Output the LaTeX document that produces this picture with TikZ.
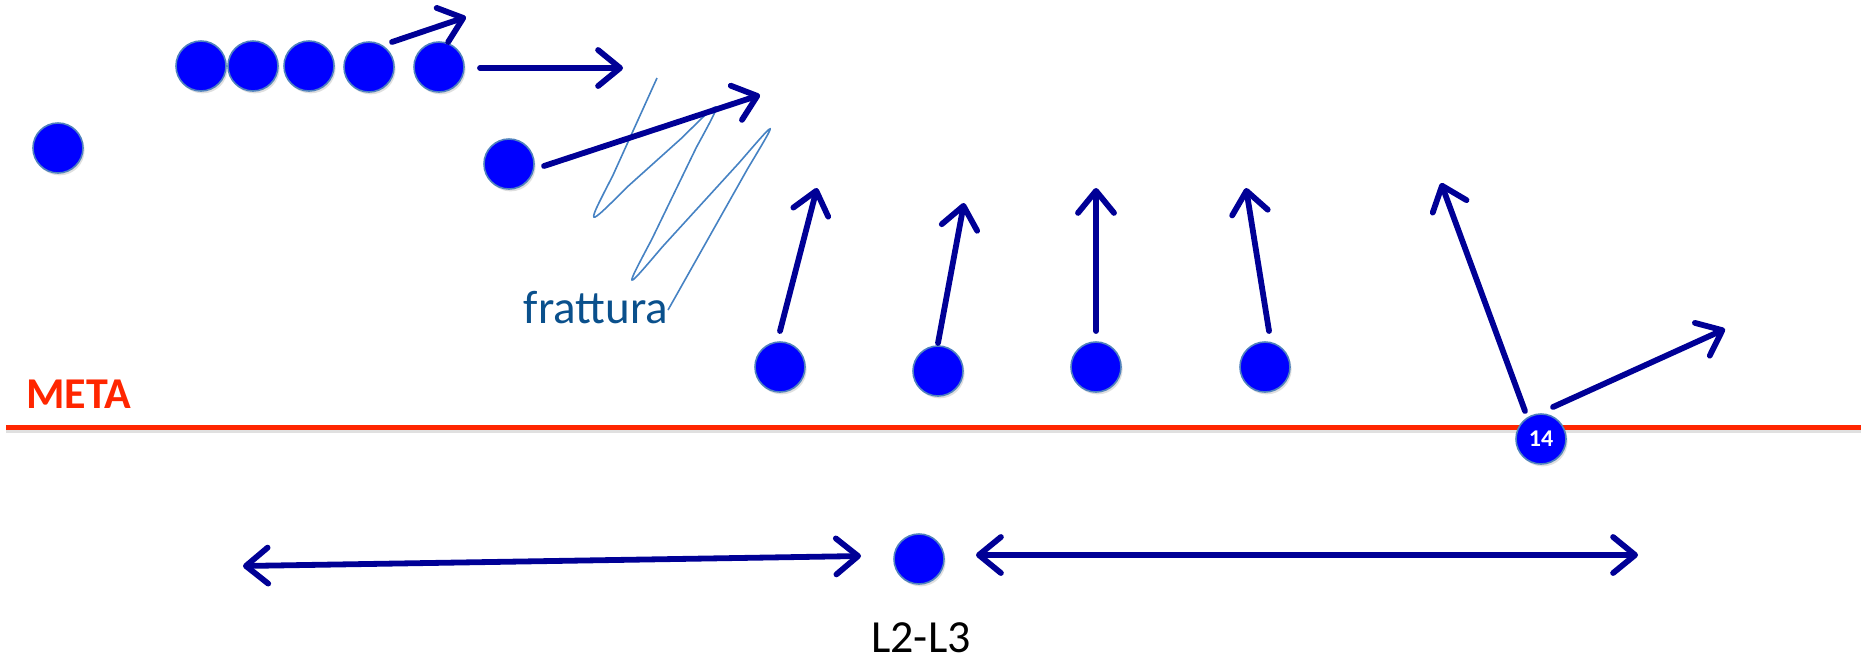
\documentclass[tikz,border=0pt]{standalone}
\usepackage{fontspec}
\setmainfont{Carlito}
\usetikzlibrary{arrows.meta,shadows}
\definecolor{navy}{RGB}{0,0,150}
\definecolor{ballfill}{RGB}{0,0,255}
\definecolor{ballrim}{RGB}{80,130,190}
\definecolor{metared}{RGB}{255,38,0}
\definecolor{fracblue}{RGB}{10,80,140}
\definecolor{zigblue}{RGB}{70,130,195}
\begin{document}
\begin{tikzpicture}[x=0.5pt,y=-0.5pt,
  ball/.style={circle, fill=ballfill, draw=ballrim, line width=0.8pt,
    minimum size=25pt, inner sep=0pt,
    drop shadow={opacity=0.25, shadow xshift=0.8pt, shadow yshift=-1.2pt}},
  mv/.style={draw=navy, line width=2.9pt, line cap=round,
    -{Straight Barb[length=11pt,width=18pt,round]}},
  dmv/.style={draw=navy, line width=2.9pt, line cap=round,
    {Straight Barb[length=11pt,width=18pt,round]}-{Straight Barb[length=11pt,width=18pt,round]}},
  lbl/.style={inner sep=0pt, anchor=base}]
\useasboundingbox (0,0) rectangle (1861,660);

% META line
\coordinate (mL) at (6,427);
\coordinate (mR) at (1861,427);
\draw[black, opacity=0.12, line width=2.5pt] ([yshift=-1.5pt]mL) -- ([yshift=-1.5pt]mR);
\draw[metared, line width=2.5pt] (mL) -- (mR);
\node[lbl, anchor=base west, font=\bfseries\fontsize{22}{26}\selectfont, text=metared] (meta) at (26,408) {META};

% fracture zigzag
\draw[zigblue, line width=0.8pt]
  (657,78) -- (612.6,176.0) .. controls (585.3,228.9) and (585.3,228.9) .. (627.4,186.8)
  -- (682.6,137.2) .. controls (724.8,95.2) and (724.8,95.2) .. (696.3,147.5)
  -- (651.7,239.5) .. controls (623.7,292.3) and (623.7,292.3) .. (662.4,246.8)
  -- (739.6,162.2) .. controls (778.7,116.9) and (778.7,116.9) .. (747.9,168.2)
  -- (668,310);
\node[lbl, font=\fontsize{23.5}{28}\selectfont, text=fracblue] (frat) at (596,323) {frattura};

% balls
\node[ball] (b0) at (58,148) {};
\node[ball] (r1) at (201,66) {};
\node[ball] (r2) at (253,66) {};
\node[ball] (r3) at (309,66) {};
\node[ball] (r4) at (369,67) {};
\node[ball] (r5) at (439,67) {};
\node[ball] (b3) at (509,164) {};
\node[ball] (c1) at (780,367) {};
\node[ball] (c2) at (938,371) {};
\node[ball] (c3) at (1096,367) {};
\node[ball] (c4) at (1265,367) {};
\node[ball] (l23) at (919,559) {};

% arrow coordinates
\coordinate (a1s) at (392,42);   \coordinate (a1e) at (466,17);
\coordinate (a2s) at (480,68);   \coordinate (a2e) at (623,68);
\coordinate (a3s) at (544,166);  \coordinate (a3e) at (760,95);
\coordinate (a4s) at (780,331);  \coordinate (a4e) at (817,188);
\coordinate (a5s) at (938,343);  \coordinate (a5e) at (964,203);
\coordinate (a6s) at (1096,331); \coordinate (a6e) at (1096,188);
\coordinate (a7s) at (1269,331); \coordinate (a7e) at (1246,188);
\coordinate (a8s) at (1525,411); \coordinate (a8e) at (1441,183);
\coordinate (a9s) at (1553,407); \coordinate (a9e) at (1725,329);
\coordinate (d1s) at (243,566);  \coordinate (d1e) at (861,556);
\coordinate (d2s) at (976,555);  \coordinate (d2e) at (1638,555);

\draw[mv] (a1s) -- (a1e);
\draw[mv] (a2s) -- (a2e);
\draw[mv] (a3s) -- (a3e);
\draw[mv] (a4s) -- (a4e);
\draw[mv] (a5s) -- (a5e);
\draw[mv] (a6s) -- (a6e);
\draw[mv] (a7s) -- (a7e);
\draw[mv] (a8s) -- (a8e);
\draw[mv] (a9s) -- (a9e);
\draw[dmv] (d1s) -- (d1e);
\draw[dmv] (d2s) -- (d2e);

\node[ball, font=\bfseries\fontsize{12}{14}\selectfont, text=white] (n14) at (1541,439) {14};

\node[lbl, font=\fontsize{23}{27}\selectfont, text=black] (l23t) at (921,652) {L2-L3};
\end{tikzpicture}
\end{document}
